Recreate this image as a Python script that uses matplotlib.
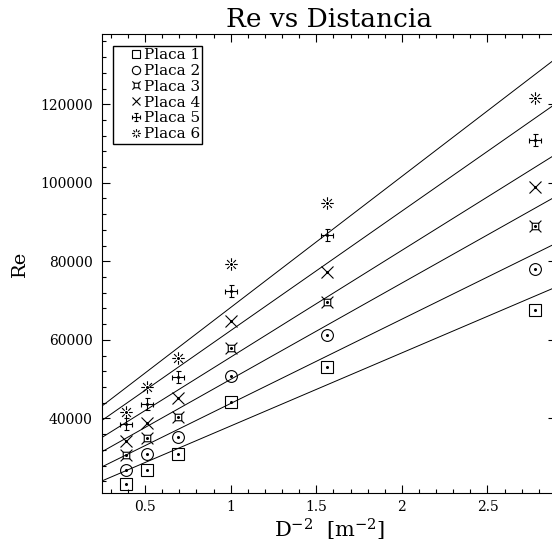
import numpy as np
import matplotlib
matplotlib.use("Agg")
import matplotlib.pyplot as plt
from matplotlib.lines import Line2D
from matplotlib.path import Path
from matplotlib.legend_handler import HandlerLine2D
from matplotlib.ticker import MultipleLocator, FormatStrFormatter

# D^-2 para D = 1.6, 1.4, 1.2, 1.0, 0.8, 0.6 m
x = [0.3906, 0.5102, 0.6944, 1.0, 1.5625, 2.7778]

placa_1 = [23360, 26750, 30830, 44150, 53070, 67700]
placa_2 = [26930, 30830, 35240, 50780, 61150, 77970]
placa_3 = [30570, 35080, 40330, 58010, 69630, 89000]
placa_4 = [34140, 38800, 45170, 64720, 77280, 98940]
placa_5 = [38470, 43740, 50450, 72360, 86800, 110830]
placa_6 = [41700, 47980, 55470, 79240, 94860, 121460]

nombres = ["Placa 1", "Placa 2", "Placa 3", "Placa 4", "Placa 5", "Placa 6"]
series = [placa_1, placa_2, placa_3, placa_4, placa_5, placa_6]

plt.rcParams["font.family"] = ["DejaVu Serif"]
plt.rcParams["mathtext.fontset"] = "dejavuserif"


def segmentos(lineas):
    verts, codes = [], []
    for (a, b) in lineas:
        verts += [a, b]
        codes += [Path.MOVETO, Path.LINETO]
    return Path(verts, codes)


# caja con las esquinas cruzadas
s = 0.55
caja_x = segmentos([((-s, -s), (s, -s)), ((s, -s), (s, s)), ((s, s), (-s, s)), ((-s, s), (-s, -s)),
                    ((s, s), (1, 1)), ((-s, s), (-1, 1)), ((s, -s), (1, -1)), ((-s, -s), (-1, -1))])
# cruz con remates
c = 0.4
cruz = segmentos([((-1, 0), (1, 0)), ((0, -1), (0, 1)),
                  ((-c, 1), (c, 1)), ((-c, -1), (c, -1)), ((-1, -c), (-1, c)), ((1, -c), (1, c))])
# estrella de 8 brazos con hueco central
ang = np.deg2rad(np.arange(0, 360, 45))
estrella = segmentos([((0.4 * np.cos(a), 0.4 * np.sin(a)), (np.cos(a), np.sin(a))) for a in ang])

marcas = ["s", "o", caja_x, "x", cruz, estrella]
tamanos = [8.5, 8.5, 8.5, 8, 9, 9]


class MarcaDerecha(HandlerLine2D):
    # la marca de la leyenda pegada al texto, como en gnuplot
    def create_artists(self, legend, orig_handle, xdescent, ydescent,
                       width, height, fontsize, trans):
        arts = super().create_artists(legend, orig_handle, xdescent, ydescent,
                                      width, height, fontsize, trans)
        arts[-1].set_xdata([width - xdescent - 4])
        return arts


fig = plt.figure(figsize=(5.52, 5.50), dpi=100)
ax = fig.add_axes([0.1853, 0.1036, 0.8219, 0.834])

xs = np.array(x)
xx = np.linspace(0.25, 2.9, 50)
for i in range(len(series)):
    ys = np.array(series[i])
    p = np.polyfit(xs, ys, 1)
    ax.plot(xx, np.polyval(p, xx), color="black", lw=0.7)
    ax.plot(xs, ys, linestyle="none", marker=marcas[i], markersize=tamanos[i],
            markerfacecolor="none", markeredgecolor="black", markeredgewidth=0.8,
            label=nombres[i])
    ax.plot(xs, ys, linestyle="none", marker="o", markersize=1.2, color="black")

ax.set_xlim(0.25, 2.9)
ax.set_ylim(21000, 137800)
ax.xaxis.set_major_locator(MultipleLocator(0.5))
ax.xaxis.set_minor_locator(MultipleLocator(0.1))
ax.xaxis.set_major_formatter(FormatStrFormatter("%g"))
ax.yaxis.set_major_locator(MultipleLocator(20000))
ax.yaxis.set_minor_locator(MultipleLocator(4000))
ax.tick_params(which="both", direction="in", top=True, right=True, width=0.8)
ax.tick_params(which="major", length=6, labelsize=10)
ax.tick_params(which="minor", length=3)
ax.tick_params(axis="y", pad=7)
ax.tick_params(axis="x", pad=5)
for sp in ax.spines.values():
    sp.set_linewidth(0.8)

ax.set_title("Re vs Distancia", fontsize=19, pad=5)
ax.set_xlabel(r"$\mathrm{D}^{-2}\ \ [\mathrm{m}^{-2}]$", fontsize=15, labelpad=2)
ax.set_ylabel("Re", fontsize=14, labelpad=8)

ax.legend(loc="upper left", bbox_to_anchor=(0.024, 0.975), borderaxespad=0,
          fontsize=11, fancybox=False, edgecolor="black", framealpha=1,
          handlelength=1.7, handletextpad=0.15, labelspacing=0.12,
          borderpad=0.15, markerscale=0.7,
          handler_map={Line2D: MarcaDerecha(numpoints=1)})

fig.savefig("out.png", dpi=100)
